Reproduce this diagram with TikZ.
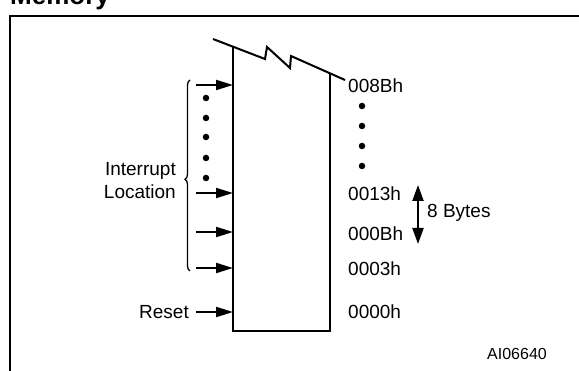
\documentclass[tikz,border=0pt]{standalone}
\usepackage{fontspec}
\setmainfont{Liberation Sans}
\usetikzlibrary{arrows.meta, positioning, decorations.pathreplacing}

\begin{document}
\begin{tikzpicture}[
  x=1pt, y=-1pt,
  lbl/.style={font=\fontsize{19}{23}\selectfont, inner sep=0pt},
  addr/.style={lbl, anchor=west},
  arr/.style={-{Triangle[length=17pt,width=10pt]}, line width=2pt},
  darr/.style={{Triangle[length=16pt,width=11pt]}-{Triangle[length=16pt,width=11pt]}, line width=2pt},
  blk/.style={line width=2pt, line join=miter},
  dot/.style={circle, fill=black, inner sep=0pt, minimum size=6.5pt},
]
\useasboundingbox (0,0) rectangle (579,371);

%% Title and frame
\node[font=\fontsize{26}{30}\selectfont\bfseries, anchor=base west, inner sep=0pt]
  (title) at (10,5) {Memory};
\draw[line width=2pt] (10,380) -- (10,16.5) -- (590,16.5);

%% Memory block with broken top
\coordinate (tl) at (233,47);
\coordinate (tr) at (330,73);
\coordinate (bl) at (233,331.5);
\coordinate (br) at (330,331.5);
\draw[blk] (213,39) -- (265,59) -- (267,47) -- (290,68) -- (291,56) -- (345,80);
\draw[blk] (tl) -- (bl) -- (br) -- (tr);

%% Entry points on the left edge
\coordinate (in1) at (233,85);
\coordinate (in2) at (233,193);
\coordinate (in3) at (233,232);
\coordinate (in4) at (233,268);
\coordinate (in5) at (233,312);
\foreach \i in {1,...,4}
  \draw[arr] ([xshift=-37pt]in\i) -- (in\i);

%% Left dots
\foreach \y [count=\k] in {98,118,137,158,178}
  \node[dot] (ld\k) at (206,\y) {};

%% Brace and label
\draw[line width=1.3pt, decorate, decoration={brace, amplitude=5pt, aspect=0.48}]
  (190,271) -- (190,80);
\node[lbl, align=right, anchor=east] (intr) at (176,181) {Interrupt\\Location};

%% Reset
\node[lbl, anchor=east] (reset) at (189,312) {Reset};
\draw[arr] (reset.east) ++(7pt,0) coordinate (rs) (rs) -- (in5);

%% Addresses
\node[addr] (a8b) at (348,86)  {008Bh};
\node[addr] (a13) at (348,194) {0013h};
\node[addr] (a0b) at (348,234) {000Bh};
\node[addr] (a03) at (348,269) {0003h};
\node[addr] (a00) at (348,312) {0000h};

%% Right dots
\foreach \y [count=\k] in {106,126,146,166}
  \node[dot] (rd\k) at (362,\y) {};

%% 8 Bytes span
\coordinate (bt) at (418,185);
\coordinate (bb) at (418,244);
\draw[darr] (bt) -- (bb);
\node[lbl, anchor=west] (bytes) at (427,213) {8 Bytes};

%% Figure code
\node[font=\fontsize{16}{19}\selectfont, anchor=west, inner sep=0pt] (code) at (487,354) {AI06640};

\end{tikzpicture}
\end{document}
